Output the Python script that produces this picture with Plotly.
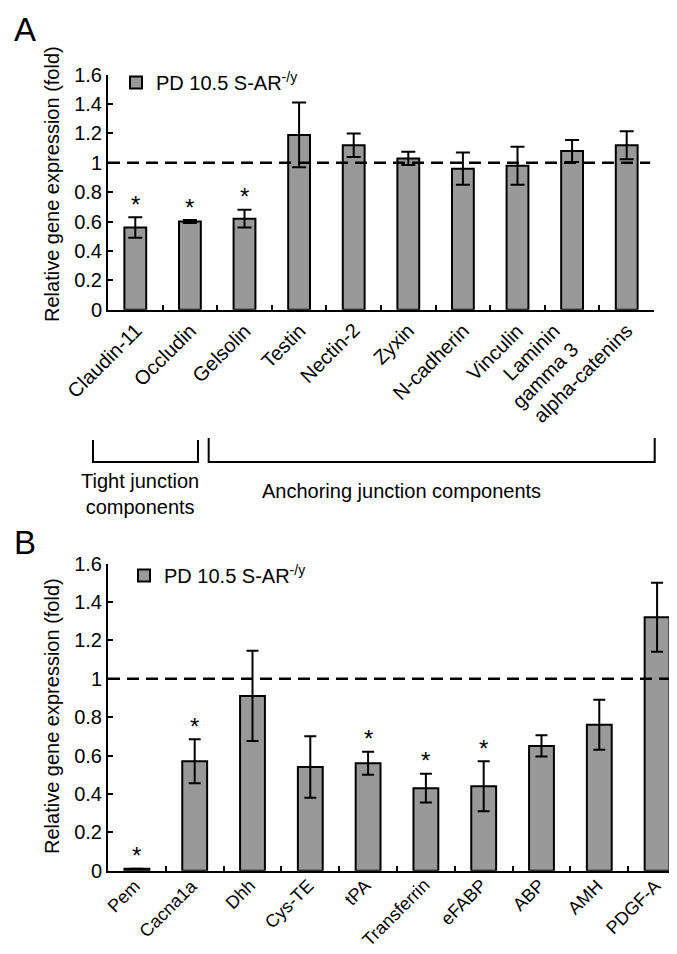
import plotly.graph_objects as go

# ---------------- data ----------------
A_categories = ["Claudin-11", "Occludin", "Gelsolin", "Testin", "Nectin-2", "Zyxin",
                "N-cadherin", "Vinculin", "Laminin<br>gamma 3", "alpha-catenins"]
A_values = [0.56, 0.60, 0.62, 1.19, 1.12, 1.03, 0.96, 0.98, 1.08, 1.12]
A_errors = [0.07, 0.01, 0.06, 0.22, 0.08, 0.045, 0.11, 0.13, 0.075, 0.095]
A_significant = [True, True, True, False, False, False, False, False, False, False]

B_categories = ["Pem", "Cacna1a", "Dhh", "Cys-TE", "tPA", "Transferrin", "eFABP",
                "ABP", "AMH", "PDGF-A"]
B_values = [0.01, 0.57, 0.91, 0.54, 0.56, 0.43, 0.44, 0.65, 0.76, 1.32]
B_errors = [0.0, 0.115, 0.235, 0.16, 0.06, 0.075, 0.13, 0.055, 0.13, 0.18]
B_significant = [True, True, False, False, True, True, True, False, False, False]

y_ticks = [0, 0.2, 0.4, 0.6, 0.8, 1.0, 1.2, 1.4, 1.6]
series_name = "PD 10.5 S-AR<sup>-/y</sup>"
y_title = "Relative gene expression (fold)"
groups_A = [("Tight junction<br>components", -0.775, 1.148),
            ("Anchoring junction components", 1.344, 9.513)]

# ---------------- style ----------------
W, H = 677, 954
FONT = "Liberation Sans, Arial, sans-serif"
BAR_FILL = "#999999"
FS = 20

A_xdom = [100 / W, 646 / W]
A_xrange = [-0.5, 9.5]
A_ydom = [1 - 301.7 / H, 1 - 66.7 / H]
B_xdom = [100 / W, 1.0]
B_xrange = [-0.5, 9.483]
B_ydom = [1 - 862.7 / H, 1 - 555.5 / H]


def px(x):
    return x / W


def py(y):
    return 1 - y / H


def cat_to_paper(c, dom, rng):
    return dom[0] + (c - rng[0]) / (rng[1] - rng[0]) * (dom[1] - dom[0])


fig = go.Figure()

fig.add_trace(go.Bar(
    x=A_categories, y=A_values, name=series_name,
    marker=dict(color=BAR_FILL, line=dict(color="black", width=2)),
    error_y=dict(type="data", array=A_errors, color="black", thickness=2, width=7),
    width=0.4, xaxis="x", yaxis="y", legend="legend", showlegend=True,
))
fig.add_trace(go.Bar(
    x=B_categories, y=B_values, name=series_name,
    marker=dict(color=BAR_FILL, line=dict(color="black", width=2)),
    error_y=dict(type="data", array=B_errors, color="black", thickness=2, width=6),
    width=0.43, xaxis="x2", yaxis="y2", legend="legend2", showlegend=True,
))

axis_common = dict(
    showline=True, linecolor="black", linewidth=2,
    ticks="inside", ticklen=5, tickwidth=1.5, tickcolor="black",
    showgrid=False, zeroline=False,
    tickfont=dict(family=FONT, size=FS, color="black"),
    automargin=False, fixedrange=True,
)

fig.update_layout(
    width=W, height=H,
    margin=dict(l=0, r=0, t=0, b=0),
    paper_bgcolor="white", plot_bgcolor="white",
    font=dict(family=FONT, size=FS, color="black"),
    xaxis=dict(domain=A_xdom, range=A_xrange, anchor="y", showticklabels=False,
               tickson="boundaries", **axis_common),
    yaxis=dict(domain=A_ydom, range=[0, 1.6], anchor="x", tickvals=y_ticks,
               **axis_common),
    xaxis2=dict(domain=B_xdom, range=B_xrange, anchor="y2", showticklabels=False,
                tickson="boundaries", **axis_common),
    yaxis2=dict(domain=B_ydom, range=[0, 1.6], anchor="x2", tickvals=y_ticks,
                **axis_common),
    legend=dict(x=px(108), y=py(55), xanchor="left", yanchor="top",
                bgcolor="rgba(0,0,0,0)", font=dict(family=FONT, size=FS),
                itemclick=False, itemdoubleclick=False),
    legend2=dict(x=px(116), y=py(548), xanchor="left", yanchor="top",
                 bgcolor="rgba(0,0,0,0)", font=dict(family=FONT, size=FS),
                 itemclick=False, itemdoubleclick=False),
    showlegend=True,
)

shapes = []
# reference line at 1
shapes.append(dict(type="line", xref="x domain", yref="y", x0=0, x1=0.993, y0=1, y1=1,
                   line=dict(color="black", width=2.5, dash="12px,7px")))
shapes.append(dict(type="line", xref="x2 domain", yref="y2", x0=0, x1=1, y0=1, y1=1,
                   line=dict(color="black", width=2.5, dash="12px,7px")))

annotations = []
# rotated category labels
for cats, xr, yr, xs, ys, fs in [(A_categories, "x", "y", 13, -7, FS),
                                 (B_categories, "x2", "y2", 10, -2, 18)]:
    for c in cats:
        annotations.append(dict(xref=xr, yref=yr, x=c, y=0, text=c, textangle=-45,
                                showarrow=False, xanchor="right", yanchor="top", align="right",
                                xshift=xs, yshift=ys,
                                font=dict(family=FONT, size=fs, color="black")))

# group brackets
bracket_tops = [py(432), py(430)]
bracket_bot = py(454)
label_y = [py(486), py(483)]
label_dx = [-5 / W, -0.045]
for (label, c0, c1), ytop, ly, dx in zip(groups_A, bracket_tops, label_y, label_dx):
    x0 = cat_to_paper(c0, A_xdom, A_xrange)
    x1 = cat_to_paper(c1, A_xdom, A_xrange)
    shapes.append(dict(type="path", xref="paper", yref="paper",
                       path=f"M{x0},{ytop} L{x0},{bracket_bot} L{x1},{bracket_bot} L{x1},{ytop}",
                       line=dict(color="black", width=2)))
    annotations.append(dict(xref="paper", yref="paper", x=(x0 + x1) / 2 + dx,
                            y=ly, text=label, showarrow=False, xanchor="center", yanchor="middle",
                            font=dict(family=FONT, size=FS, color="black")))

# significance asterisks
for cats, vals, errs, sig, xr, yr in [(A_categories, A_values, A_errors, A_significant, "x", "y"),
                                      (B_categories, B_values, B_errors, B_significant, "x2", "y2")]:
    for c, v, e, s in zip(cats, vals, errs, sig):
        if s:
            annotations.append(dict(xref=xr, yref=yr, x=c, y=v + e, text="*", showarrow=False,
                                    xanchor="center", yanchor="middle", yshift=13,
                                    font=dict(family=FONT, size=24, color="black")))

# y-axis titles
annotations.append(dict(xref="paper", yref="paper", x=px(44), y=py(176), text=y_title,
                        textangle=-90, showarrow=False, xanchor="center", yanchor="middle",
                        font=dict(family=FONT, size=FS, color="black")))
annotations.append(dict(xref="paper", yref="paper", x=px(44), y=py(708), text=y_title,
                        textangle=-90, showarrow=False, xanchor="center", yanchor="middle",
                        font=dict(family=FONT, size=FS, color="black")))
# panel letters
annotations.append(dict(xref="paper", yref="paper", x=px(4), y=py(1), text="A", showarrow=False,
                        xanchor="left", yanchor="top", font=dict(family=FONT, size=33, color="black")))
annotations.append(dict(xref="paper", yref="paper", x=px(4), y=py(514), text="B", showarrow=False,
                        xanchor="left", yanchor="top", font=dict(family=FONT, size=33, color="black")))

fig.update_layout(shapes=shapes, annotations=annotations)
fig.write_html("out.html")
